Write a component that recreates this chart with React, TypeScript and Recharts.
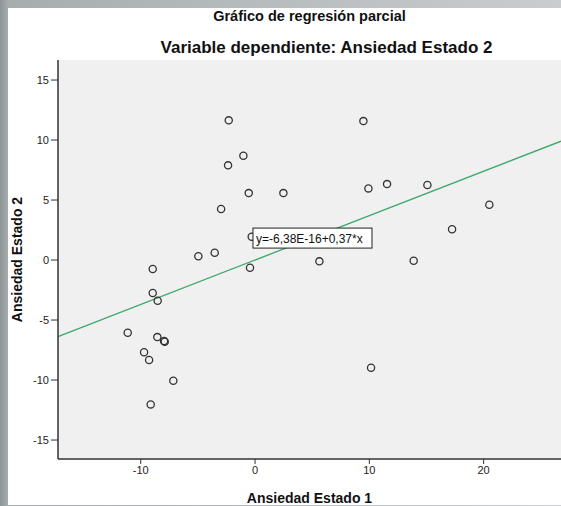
import { ScatterChart, Scatter, XAxis, YAxis, CartesianGrid, ReferenceLine, ReferenceDot } from 'recharts'

// Ansiedad Estado 1 (residuals) per case
const xValues = [-2.3, -1.02, -2.36, -0.55, 2.48, -2.97, -0.29, -4.96, -3.53, 9.48, 9.92, 11.55, 15.08, 20.5, 17.24, 5.63, 13.88, 10.15, -8.95, -0.44, -8.95, -8.52, -11.14, -8.55, -7.96, -7.9, -9.71, -9.27, -7.15, -9.13]
// Ansiedad Estado 2 (residuals) per case
const yValues = [11.64, 8.69, 7.89, 5.58, 5.58, 4.25, 1.94, 0.31, 0.61, 11.58, 5.97, 6.33, 6.25, 4.61, 2.56, -0.11, -0.06, -8.97, -0.75, -0.64, -2.75, -3.39, -6.06, -6.42, -6.75, -6.8, -7.69, -8.33, -10.06, -12.03]

const xTicks = [-10, 0, 10, 20]
const yTicks = [-15, -10, -5, 0, 5, 10, 15]
const xDomain: [number, number] = [-17.24, 26.77]
const yDomain: [number, number] = [-16.58, 16.67]

const intercept = -6.38e-16
const slope = 0.37
const equation = 'y=-6,38E-16+0,37*x'

const points = xValues.map((x, i) => ({ x, y: yValues[i] }))
const fitLine = xDomain.map((x) => ({ x, y: intercept + slope * x }))

const W = 553
const H = 497
const font = '"Liberation Sans", Arial, sans-serif'
const tick = { fontSize: 11, fill: '#222', fontFamily: font }

const Ring = (p: any) => <circle cx={p.cx} cy={p.cy} r={3.6} fill="none" stroke="#333" strokeWidth={1.3} />

const EqBox = (p: any) => (
  <g>
    <rect x={p.cx} y={p.cy - 10} width={119} height={20} fill="#fff" stroke="#222" strokeWidth={1} />
    <text x={p.cx + 3} y={p.cy + 4.5} fontSize={12} fontFamily={font} fill="#111">{equation}</text>
  </g>
)

export default function App() {
  return (
    <div style={{ width: W, height: H, background: '#fff' }}>
      <style>{`html,body{overflow:hidden;}body{margin:8px 0 0 8px;background:linear-gradient(90deg,#8d9597 0,#a7adaf 8px,#c9cdcf 100%);}`}</style>
      <ScatterChart width={W} height={H} margin={{ top: 52, right: 0, bottom: 0, left: 0 }}>
        <CartesianGrid fill="#f0f0f0" horizontal={false} vertical={false} />
        <XAxis xAxisId="top" orientation="top" type="number" dataKey="x" domain={xDomain} allowDataOverflow height={0} tick={false} tickLine={false} axisLine={{ stroke: '#333', strokeWidth: 1.5 }} />
        <XAxis
          type="number"
          dataKey="x"
          domain={xDomain}
          allowDataOverflow
          ticks={xTicks}
          height={46}
          tick={tick}
          tickSize={5}
          tickMargin={2}
          tickLine={{ stroke: '#333' }}
          axisLine={{ stroke: '#333', strokeWidth: 1.5 }}
          label={{ value: 'Ansiedad Estado 1', position: 'insideBottom', offset: 2, style: { fontSize: 14, fontWeight: 700, fill: '#111', fontFamily: font } }}
        />
        <YAxis
          type="number"
          dataKey="y"
          domain={yDomain}
          allowDataOverflow
          ticks={yTicks}
          width={50}
          tick={tick}
          tickSize={7}
          tickMargin={2}
          tickLine={{ stroke: '#333' }}
          axisLine={{ stroke: '#333', strokeWidth: 1.5 }}
          label={{ value: 'Ansiedad Estado 2', angle: -90, position: 'insideLeft', offset: 9, style: { textAnchor: 'middle', fontSize: 14, fontWeight: 700, fill: '#111', fontFamily: font } }}
        />
        <ReferenceLine segment={fitLine} stroke="#3aa76d" strokeWidth={1.3} />
        <Scatter data={points} shape={Ring} isAnimationActive={false} />
        <ReferenceDot x={-0.18} y={1.83} shape={EqBox} />
        <text x={301.5} y={13} textAnchor="middle" fontSize={14.5} fontWeight={700} fontFamily={font} fill="#111">Gráfico de regresión parcial</text>
        <text x={318.5} y={45} textAnchor="middle" fontSize={17} fontWeight={700} fontFamily={font} fill="#111">Variable dependiente: Ansiedad Estado 2</text>
      </ScatterChart>
    </div>
  )
}
